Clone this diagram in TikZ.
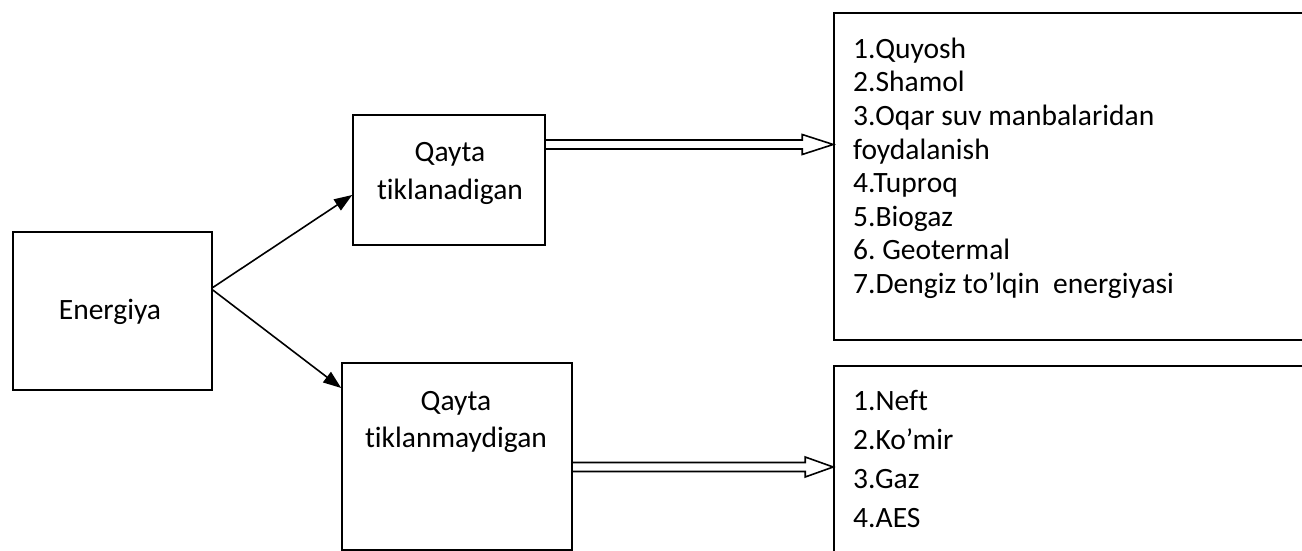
\documentclass[tikz,border=0pt]{standalone}
\usepackage{fontspec}
\setmainfont{Carlito}[Ligatures={NoCommon}]
\frenchspacing
\usetikzlibrary{arrows.meta,calc}
\begin{document}
\begin{tikzpicture}[x=1pt,y=-1pt,
  box/.style={draw, line width=1.6pt, rectangle, inner sep=0pt},
  lbl/.style={font=\fontsize{29.5}{34}\selectfont, inner sep=0pt, anchor=base},
  item/.style={font=\fontsize{29.5}{34}\selectfont, inner sep=0pt, anchor=base west},
  conn/.style={line width=1.6pt, -{Triangle[length=18pt,width=13pt]}},
  hollow/.style={draw, line width=1.6pt, line join=miter}]
\clip (0,0) rectangle (1302,551);
% boxes
\node[box, minimum width=199pt, minimum height=158pt] (en) at (112.5,311) {};
\node[box, minimum width=192pt, minimum height=130pt] (qt) at (449,180) {};
\node[box, minimum width=230pt, minimum height=187pt] (qtm) at (457,456.5) {};
\node[box, minimum width=486pt, minimum height=327pt] (ra) at (1077,176.5) {};
\node[box, minimum width=486pt, minimum height=234pt] (nr) at (1077,483) {};
% texts
\node[lbl] (enT) at (110,319) {Energiya};
\node[lbl] (qtA) at (450,161) {Qayta};
\node[lbl] (qtB) at (450,199) {tiklanadigan};
\node[lbl] (qtmA) at (456,410) {Qayta};
\node[lbl] (qtmB) at (456,447) {tiklanmaydigan};
\node[item] (r1) at (853,58.5) {1.Quyosh};
\node[item] (r2) at (853,92) {2.Shamol};
\node[item] (r3) at (853,125.5) {3.Oqar suv manbalaridan};
\node[item] (r3b) at (853,159) {foydalanish};
\node[item] (r4) at (853,192.5) {4.Tuproq};
\node[item] (r5) at (853,226) {5.Biogaz};
\node[item] (r6) at (853,259.5) {6. Geotermal};
\node[item] (r7) at (853,293) {7.Dengiz to’lqin\ \ energiyasi};
\node[item] (n1) at (853,410) {1.Neft};
\node[item] (n2) at (853,449) {2.Ko’mir};
\node[item] (n3) at (853,488) {3.Gaz};
\node[item] (n4) at (853,527.5) {4.AES};
% helper levels
\coordinate (ya) at (0,287.5);
\coordinate (yb) at (0,195);
\coordinate (yc) at (0,290);
\coordinate (yd) at (0,388);
\coordinate (h1) at (0,144.5);
\coordinate (h2) at (0,467);
% single arrows
\draw[conn] (en.east |- ya) -- (qt.west |- yb);
\draw[conn] (en.east |- yc) -- (qtm.west |- yd);
% hollow double arrows
\draw[hollow] ($(qt.east |- h1)+(0,-4.5)$) -- ($(ra.west |- h1)+(-31,-4.5)$) -- ++(0,-5.5)
  -- (ra.west |- h1) -- ($(ra.west |- h1)+(-31,10)$) -- ++(0,-5.5) -- ($(qt.east |- h1)+(0,4.5)$);
\draw[hollow] ($(qtm.east |- h2)+(0,-4.5)$) -- ($(nr.west |- h2)+(-28,-4.5)$) -- ++(0,-5.5)
  -- (nr.west |- h2) -- ($(nr.west |- h2)+(-28,10)$) -- ++(0,-5.5) -- ($(qtm.east |- h2)+(0,4.5)$);
\end{tikzpicture}
\end{document}
